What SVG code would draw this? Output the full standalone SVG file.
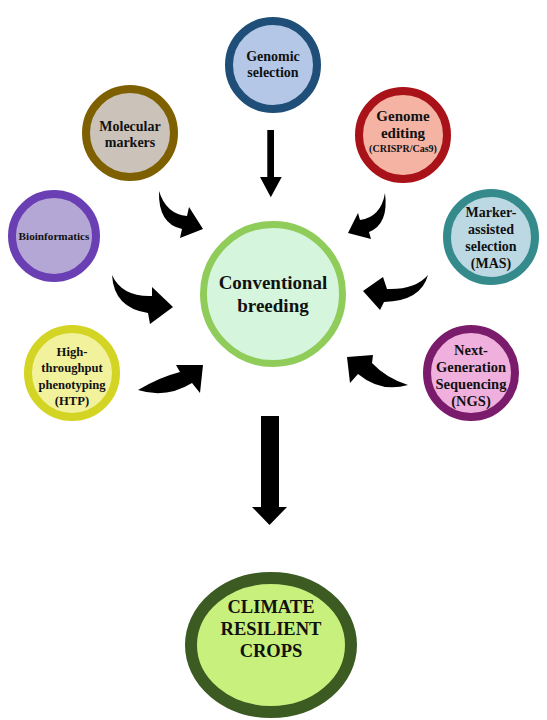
<svg xmlns="http://www.w3.org/2000/svg" width="547" height="720" viewBox="0 0 547 720">
<style>
text{font-family:"Liberation Serif","Times New Roman",serif;font-weight:bold;fill:#111;text-anchor:middle}
.s{font-size:14px}
.arr{fill:#000}
</style>
<rect width="547" height="720" fill="#fff"/>
<g id="connectors">
<path class="arr" d="M267.3,130 H274 V177 H281.7 L270.8,197.3 L260,177 H267.3 Z"/>
<path class="arr" d="M261,416 H279 V507 H287 L269.5,525 L252,507 H261 Z"/>
<path class="arr" d="M159,191 Q166,214 187,216 L189,207 L203,229 L180,238 L182,229 Q158,224 159,191 Z"/>
<path class="arr" d="M385,193 Q381,217 360,220 L358,213 L348,233 L371,239 L369,232 Q389,224 385,193 Z"/>
<path class="arr" d="M112,275 Q122,297 152,296 L152,287 L173,307 L150,324 L148,313 Q114,308 112,275 Z"/>
<path class="arr" d="M428,275 Q415,290 387,289 L383,277 L363,291 L380,310 L384,302 Q421,301 428,275 Z"/>
<path class="arr" d="M138,390 Q160,377 180,372 L176,365 L203,365 L200,393 L192,383 Q166,399 138,390 Z"/>
<path class="arr" d="M408,385 Q386,378 372,363 L373,355 L347,357 L350,383 L358,374 Q381,393 408,385 Z"/>
</g>
<g id="genomic-selection">
<circle cx="273" cy="65" r="44" fill="#b4c7e7" stroke="#1f4e79" stroke-width="8"/>
<text class="s" x="273" y="61">Genomic</text>
<text class="s" x="273" y="77">selection</text>
</g>
<g id="molecular-markers">
<circle cx="130" cy="133" r="44" fill="#cbc3b9" stroke="#7f6000" stroke-width="8"/>
<text class="s" x="130" y="131">Molecular</text>
<text class="s" x="130" y="147">markers</text>
</g>
<g id="genome-editing">
<circle cx="403" cy="135" r="44" fill="#f5b3a4" stroke="#a91218" stroke-width="8"/>
<text x="403" y="121" style="font-size:15px">Genome</text>
<text x="403" y="138" style="font-size:15px">editing</text>
<text x="403" y="152" style="font-size:10px">(CRISPR/Cas9)</text>
</g>
<g id="bioinformatics">
<circle cx="54" cy="236" r="42" fill="#b4a7d6" stroke="#6a3fb3" stroke-width="8"/>
<text x="54" y="240" style="font-size:11.2px">Bioinformatics</text>
</g>
<g id="marker-assisted-selection">
<circle cx="491" cy="237" r="44" fill="#bcd8e3" stroke="#358a8c" stroke-width="8"/>
<text class="s" x="491" y="217">Marker-</text>
<text class="s" x="491" y="234">assisted</text>
<text class="s" x="491" y="251">selection</text>
<text class="s" x="491" y="268">(MAS)</text>
</g>
<g id="high-throughput-phenotyping">
<circle cx="72" cy="373" r="44" fill="#f2f29c" stroke="#d4d424" stroke-width="8"/>
<text x="72" y="356" style="font-size:12.6px">High-</text>
<text x="72" y="372" style="font-size:12.6px">throughput</text>
<text x="72" y="389" style="font-size:12.6px">phenotyping</text>
<text x="72" y="405" style="font-size:12.6px">(HTP)</text>
</g>
<g id="next-generation-sequencing">
<circle cx="471" cy="373" r="44" fill="#efb0dd" stroke="#7a1b6c" stroke-width="8"/>
<text x="471" y="355" style="font-size:14.5px">Next-</text>
<text x="471" y="372" style="font-size:14.5px">Generation</text>
<text x="471" y="389" style="font-size:14.5px">Sequencing</text>
<text x="471" y="406" style="font-size:14.5px">(NGS)</text>
</g>
<g id="conventional-breeding">
<circle cx="273" cy="294" r="69.5" fill="#d5f6dc" stroke="#8fcc5a" stroke-width="7"/>
<text x="273" y="289" style="font-size:19px">Conventional</text>
<text x="273" y="312" style="font-size:19px">breeding</text>
</g>
<g id="climate-resilient-crops">
<ellipse cx="271" cy="645" rx="80" ry="67" fill="#c8f07c" stroke="#3b5b23" stroke-width="12"/>
<text x="271" y="613" style="font-size:18.5px">CLIMATE</text>
<text x="271" y="635" style="font-size:18.5px">RESILIENT</text>
<text x="271" y="657" style="font-size:18.5px">CROPS</text>
</g>
</svg>
